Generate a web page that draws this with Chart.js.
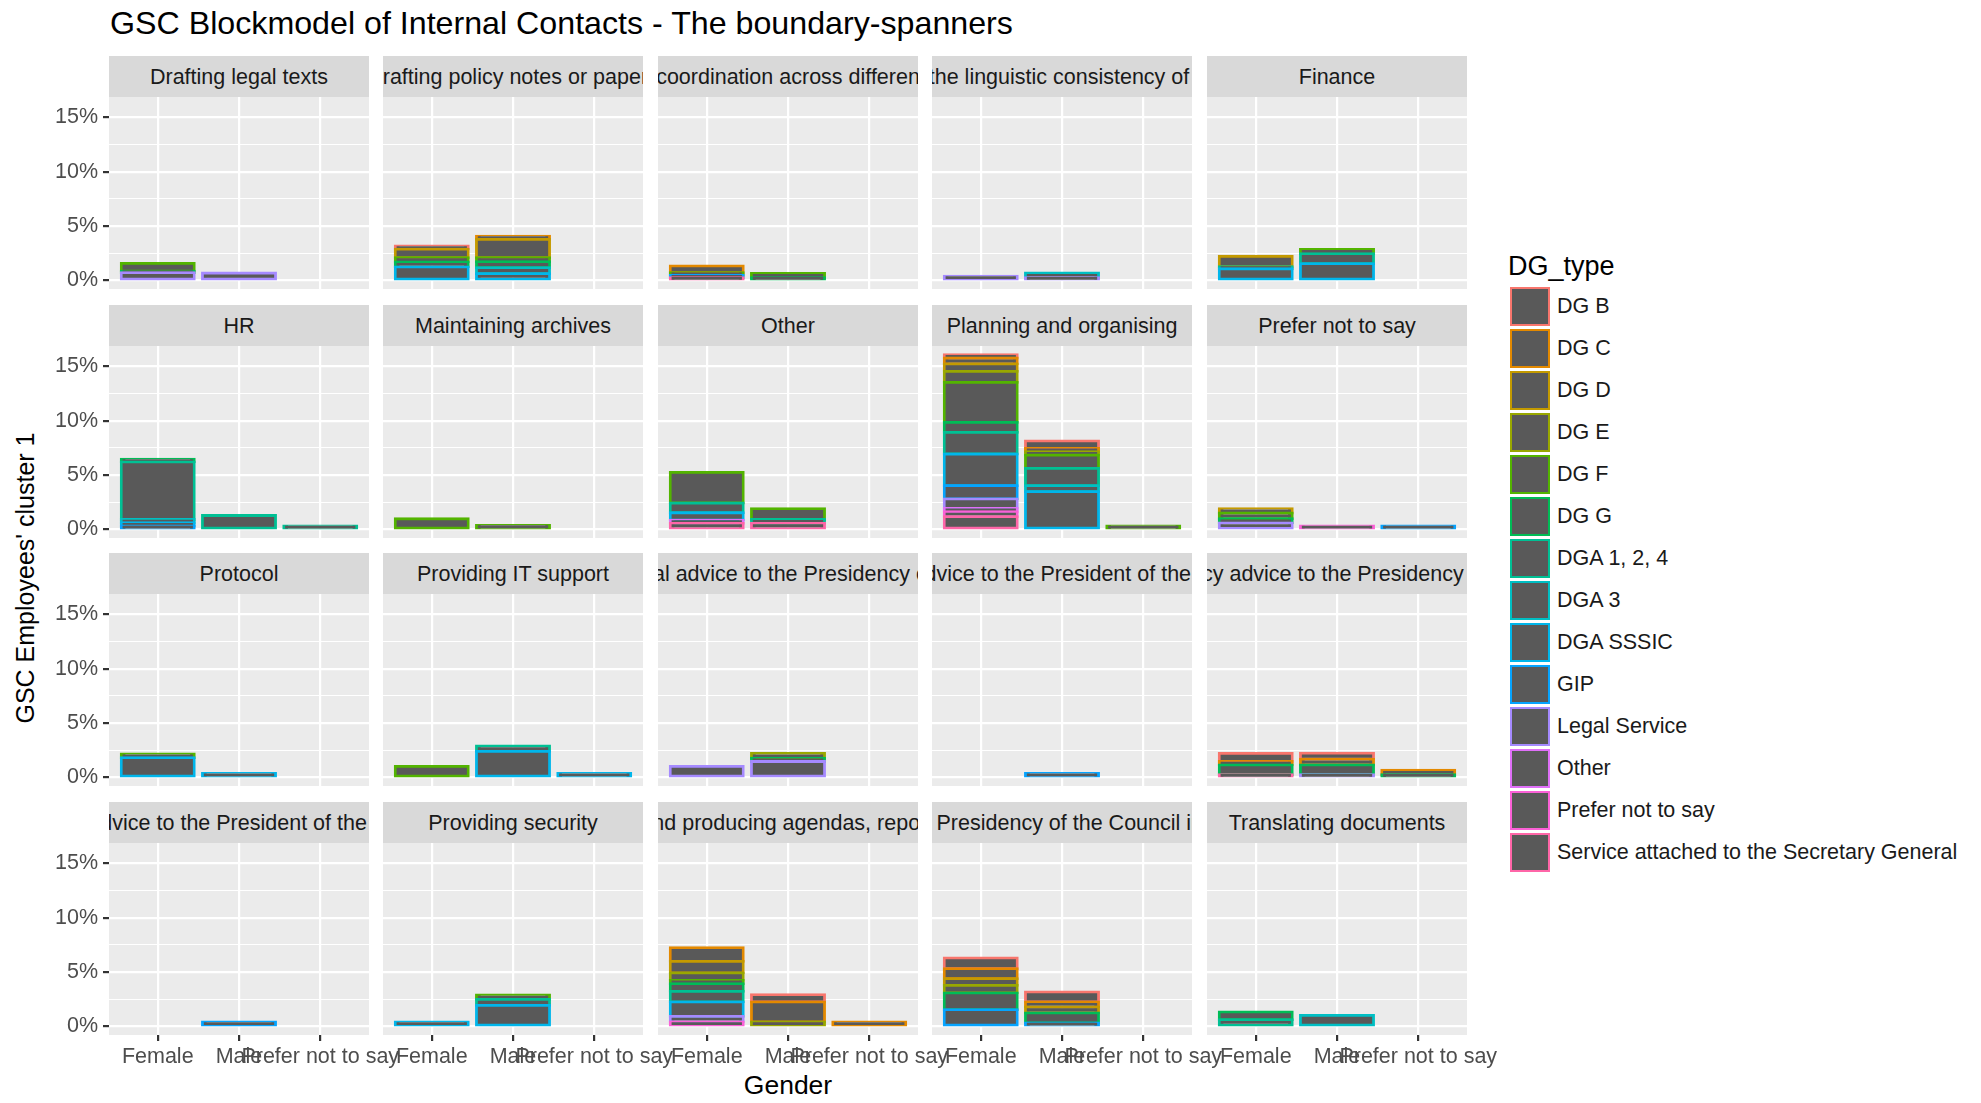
<!DOCTYPE html>
<html>
<head>
<meta charset="utf-8">
<title>GSC Blockmodel of Internal Contacts</title>
<script src="https://cdn.jsdelivr.net/npm/chart.js@4.4.1/dist/chart.umd.min.js"></script>
<style>
  body { margin: 0; background: #ffffff; }
  #page {
    position: relative; width: 1981px; height: 1103px; overflow: hidden;
    font-family: "Liberation Sans", Arial, Helvetica, sans-serif;
  }
  #title { position: absolute; left: 110px; top: 7px; font-size: 32.2px; line-height: 32px; color: #000; white-space: nowrap; }
  .strip { position: absolute; height: 41px; background: #D9D9D9; overflow: hidden; }
  .strip span {
    position: absolute; left: 50%; top: 50%; transform: translate(-50%, -50%);
    white-space: nowrap; font-size: 21.5px; color: #1A1A1A;
  }
  canvas { position: absolute; }
  #xTitle { position: absolute; left: 688px; width: 200px; top: 1072px; text-align: center; font-size: 26.5px; line-height: 27px; color: #000; }
  #yTitle {
    position: absolute; left: 25px; top: 578px; transform: translate(-50%, -50%) rotate(-90deg);
    font-size: 25px; line-height: 25px; white-space: nowrap; color: #000;
  }
  #legend { position: absolute; left: 1508px; top: 253px; }
  #legend .legendTitle { position: absolute; left: 0; top: 0; font-size: 27px; line-height: 27px; white-space: nowrap; color: #000; }
  #legend .key { position: absolute; left: 2px; width: 40px; height: 39px; box-sizing: border-box; border: 2.5px solid; background: #595959; }
  #legend .label { position: absolute; left: 49px; height: 39px; line-height: 39px; font-size: 21.5px; white-space: nowrap; color: #1A1A1A; }
</style>
</head>
<body>
<div id="page">
  <div id="title">GSC Blockmodel of Internal Contacts - The boundary-spanners</div>
  <div id="xTitle">Gender</div>
  <div id="yTitle">GSC Employees' cluster 1</div>
  <div id="legend"></div>
</div>
<script>
// Categories on the x axis of every panel.
const genders = ['Female', 'Male', 'Prefer not to say'];

// Fill-outline groups, in legend order (first level sits on top of each stack).
const dgTypes = [
    'DG B', 'DG C', 'DG D', 'DG E', 'DG F', 'DG G', 'DGA 1, 2, 4', 'DGA 3',
    'DGA SSSIC', 'GIP', 'Legal Service', 'Other', 'Prefer not to say',
    'Service attached to the Secretary General',
];
const dgColours = [
    '#F8766D', '#E38900', '#C49A00', '#99A800', '#53B400', '#00BC56', '#00C094',
    '#00BFC4', '#00B6EB', '#06A4FF', '#A58AFF', '#DF70F8', '#FB61D7', '#FF66A8',
];

// Y breaks (percent); labelled majors plus the minor lines between them.
const yMajorBreaks = [0, 5, 10, 15];

// Facet titles, wrapped 5 per row.
const facetNames = [
    'Drafting legal texts',
    'Drafting policy notes or papers',
    'Ensuring coordination across different services',
    'Ensuring the linguistic consistency of legal acts',
    'Finance',
    'HR',
    'Maintaining archives',
    'Other',
    'Planning and organising',
    'Prefer not to say',
    'Protocol',
    'Providing IT support',
    'Providing legal advice to the Presidency of the Council',
    'Providing policy advice to the President of the European Council',
    'Providing policy advice to the Presidency of the Council',
    'Providing press advice to the President of the European Council',
    'Providing security',
    'Providing support in drafting and producing agendas, reports and minutes of the meeting',
    'Providing support to the Presidency of the Council in the legislative process',
    'Translating documents',
];

// Share of cluster 1 (%) per task: [DG type, Female, Male, Prefer not to say]
const draftingLegalTexts = [
    ['DG F', 0.70, 0, 0],
    ['DG G', 0.15, 0, 0],
    ['Legal Service', 0.70, 0.67, 0],
];
const draftingPolicyNotes = [
    ['DG B', 0.30, 0, 0],
    ['DG C', 0, 0.30, 0],
    ['DG D', 0.77, 1.69, 0],
    ['DG F', 0.40, 0.37, 0],
    ['DG G', 0.46, 0.55, 0],
    ['DGA 3', 0, 0.55, 0],
    ['DGA SSSIC', 1.23, 0.61, 0],
];
const ensuringCoordination = [
    ['DG C', 0.62, 0, 0],
    ['DG F', 0.24, 0.40, 0],
    ['DG G', 0, 0.24, 0],
    ['GIP', 0.21, 0, 0],
    ['Service attached to the Secretary General', 0.25, 0, 0],
];
const ensuringLinguistic = [
    ['DGA 3', 0, 0.43, 0],
    ['Legal Service', 0.37, 0.24, 0],
];
const finance = [
    ['DG D', 0.95, 0, 0],
    ['DG F', 0, 0.40, 0],
    ['DGA 1, 2, 4', 0.20, 0.92, 0],
    ['DGA SSSIC', 1.06, 1.53, 0],
];
const hr = [
    ['DG G', 0.25, 0, 0],
    ['DGA 1, 2, 4', 5.30, 1.27, 0.30],
    ['DGA 3', 0.30, 0, 0],
    ['DGA SSSIC', 0.30, 0, 0],
    ['GIP', 0.30, 0, 0],
];
const maintainingArchives = [
    ['DG F', 0.97, 0.36, 0],
];
const otherTasks = [
    ['DG F', 2.82, 1.00, 0],
    ['DGA 1, 2, 4', 0.90, 0.35, 0],
    ['DGA SSSIC', 0.67, 0, 0],
    ['Other', 0.30, 0, 0],
    ['Service attached to the Secretary General', 0.55, 0.55, 0],
];
const planning = [
    ['DG B', 0.30, 0.68, 0],
    ['DG C', 0.55, 0.30, 0],
    ['DG D', 0.68, 0, 0],
    ['DG E', 1.01, 0.31, 0],
    ['DG F', 3.68, 1.23, 0.30],
    ['DG G', 0.92, 0, 0],
    ['DGA 1, 2, 4', 2.00, 1.59, 0],
    ['DGA 3', 0, 0.55, 0],
    ['DGA SSSIC', 2.91, 3.47, 0],
    ['GIP', 1.23, 0, 0],
    ['Legal Service', 0.86, 0, 0],
    ['Other', 0.30, 0, 0],
    ['Prefer not to say', 0.46, 0, 0],
    ['Service attached to the Secretary General', 1.17, 0, 0],
];
const preferNotToSay = [
    ['DG D', 0.40, 0, 0],
    ['DG F', 0.52, 0, 0],
    ['DG G', 0.40, 0, 0],
    ['GIP', 0, 0, 0.30],
    ['Legal Service', 0.58, 0, 0],
    ['Prefer not to say', 0, 0.30, 0],
];
const protocol = [
    ['DG F', 0.35, 0, 0],
    ['DGA SSSIC', 1.80, 0.35, 0],
];
const itSupport = [
    ['DG F', 1.00, 0, 0],
    ['DGA 1, 2, 4', 0, 0.50, 0],
    ['DGA SSSIC', 0, 2.38, 0.35],
];
const legalAdvice = [
    ['DG E', 0, 0.45, 0],
    ['DG G', 0, 0.30, 0],
    ['Legal Service', 1.00, 1.45, 0],
];
const adviceEuropeanCouncil = [
    ['GIP', 0, 0.35, 0],
];
const policyAdvicePresidency = [
    ['DG B', 0.75, 0.55, 0],
    ['DG C', 0.30, 0.52, 0.40],
    ['DG G', 0.90, 0.90, 0.25],
    ['Legal Service', 0, 0.25, 0],
    ['Service attached to the Secretary General', 0.25, 0, 0],
];
const pressAdvice = [
    ['GIP', 0, 0.40, 0],
];
const security = [
    ['DG F', 0, 0.40, 0],
    ['DGA 1, 2, 4', 0, 0.55, 0],
    ['DGA SSSIC', 0.40, 1.93, 0],
];
const agendasReports = [
    ['DG B', 0, 0.67, 0],
    ['DG C', 1.26, 1.84, 0.40],
    ['DG D', 1.07, 0, 0],
    ['DG E', 0.68, 0.40, 0],
    ['DG F', 0.30, 0, 0],
    ['DG G', 0.71, 0, 0],
    ['DGA 1, 2, 4', 0.98, 0, 0],
    ['DGA SSSIC', 1.32, 0, 0],
    ['Legal Service', 0.52, 0, 0],
    ['Prefer not to say', 0.40, 0, 0],
];
const supportPresidency = [
    ['DG B', 0.98, 0.92, 0],
    ['DG C', 0.92, 0.46, 0],
    ['DG D', 0.62, 0.55, 0],
    ['DG E', 0.70, 0, 0],
    ['DG G', 1.54, 0.92, 0],
    ['GIP', 1.53, 0.31, 0],
];
const translating = [
    ['DG G', 0.70, 0, 0],
    ['DGA 1, 2, 4', 0.62, 0, 0],
    ['DGA 3', 0, 1.00, 0],
];

const facetData = [
    draftingLegalTexts, draftingPolicyNotes, ensuringCoordination, ensuringLinguistic, finance,
    hr, maintainingArchives, otherTasks, planning, preferNotToSay,
    protocol, itSupport, legalAdvice, adviceEuropeanCouncil, policyAdvicePresidency,
    pressAdvice, security, agendasReports, supportPresidency, translating,
];

// Panel grid geometry (px).
const PANEL_W = 260, PANEL_H = 192;
const panelLeft = col => Math.round(109 + col * 274.4);
const panelTop = row => Math.round(97 + row * 248.5);
const STRIP_H = 41;
const Y_AXIS_W = 75, X_AXIS_H = 42;
const PAD_T = 20, PAD_B = 20, PAD_R = 50;

// Shared y range: stacked totals, expanded by 5% either side.
const stackTotals = facetData.flatMap(rows =>
    genders.map((g, k) => rows.reduce((sum, r) => sum + r[k + 1], 0)));
const maxTotal = Math.max(...stackTotals);
const yMin = -0.05 * maxTotal, yMax = 1.05 * maxTotal;

const yBreaks = [];
yMajorBreaks.forEach((v, i) => {
    yBreaks.push(v);
    if (i < yMajorBreaks.length - 1) yBreaks.push((v + yMajorBreaks[i + 1]) / 2);
});
const isMajor = v => yMajorBreaks.includes(v);

Chart.defaults.font.family = '"Liberation Sans", Arial, Helvetica, sans-serif';
const tickFont = { size: 21.5 };

// Grey panel background behind the grid.
const panelBackground = {
    id: 'panelBackground',
    beforeDraw(chart) {
        const { ctx, chartArea: a } = chart;
        ctx.save();
        ctx.fillStyle = '#EBEBEB';
        ctx.fillRect(a.left, a.top, a.right - a.left, a.bottom - a.top);
        ctx.restore();
    },
};

const page = document.getElementById('page');

facetNames.forEach((name, i) => {
    const row = Math.floor(i / 5), col = i % 5;
    const left = panelLeft(col), top = panelTop(row);
    const leftCol = col === 0, bottomRow = row === 3;

    // Facet strip.
    const strip = document.createElement('div');
    strip.className = 'strip';
    strip.style.left = left + 'px';
    strip.style.top = (top - STRIP_H) + 'px';
    strip.style.width = PANEL_W + 'px';
    const label = document.createElement('span');
    label.textContent = name;
    strip.appendChild(label);
    page.appendChild(strip);

    // Panel canvas, with room for the axes where they are drawn.
    const axisW = leftCol ? Y_AXIS_W : 0;
    const canvas = document.createElement('canvas');
    canvas.width = axisW + PANEL_W + PAD_R;
    canvas.height = PAD_T + PANEL_H + (bottomRow ? X_AXIS_H : PAD_B);
    canvas.style.left = (left - axisW) + 'px';
    canvas.style.top = (top - PAD_T) + 'px';
    page.appendChild(canvas);

    // Last level first so that DG B ends up on top of the stack.
    const rows = facetData[i];
    const datasets = [];
    for (let d = dgTypes.length - 1; d >= 0; d--) {
        const r = rows.find(e => e[0] === dgTypes[d]);
        if (!r) continue;
        datasets.push({
            label: dgTypes[d],
            data: genders.map((g, k) => ({ x: k + 1, y: r[k + 1] || null })),
            backgroundColor: '#595959',
            borderColor: dgColours[d],
        });
    }

    new Chart(canvas, {
        type: 'bar',
        data: { datasets },
        options: {
            responsive: false,
            animation: false,
            layout: { padding: { top: PAD_T, right: PAD_R, bottom: bottomRow ? 0 : PAD_B, left: 0 } },
            datasets: {
                bar: {
                    barPercentage: 0.9,
                    categoryPercentage: 1,
                    borderWidth: 2.8,
                    borderSkipped: false,
                    inflateAmount: 1.4,
                },
            },
            plugins: { legend: { display: false }, tooltip: { enabled: false } },
            scales: {
                x: {
                    type: 'linear',
                    min: 0.4,
                    max: 3.6,
                    offset: false,
                    stacked: true,
                    afterBuildTicks: s => { s.ticks = genders.map((g, k) => ({ value: k + 1 })); },
                    afterFit: s => { s.height = bottomRow ? X_AXIS_H : 0; },
                    border: { display: false },
                    grid: {
                        offset: false,
                        color: '#FFFFFF',
                        lineWidth: 2.2,
                        drawTicks: bottomRow,
                        tickLength: 6,
                        tickColor: '#333333',
                        tickWidth: 2.2,
                    },
                    ticks: {
                        display: bottomRow,
                        autoSkip: false,
                        maxRotation: 0,
                        minRotation: 0,
                        padding: 3,
                        color: '#4D4D4D',
                        font: tickFont,
                        callback: v => genders[v - 1],
                    },
                },
                y: {
                    min: yMin,
                    max: yMax,
                    stacked: true,
                    afterBuildTicks: s => { s.ticks = yBreaks.map(v => ({ value: v })); },
                    afterFit: s => { s.width = axisW; },
                    border: { display: false },
                    grid: {
                        color: '#FFFFFF',
                        lineWidth: c => isMajor(c.tick.value) ? 2.2 : 1.1,
                        drawTicks: leftCol,
                        tickLength: 6,
                        tickColor: c => isMajor(c.tick.value) ? '#333333' : 'rgba(0,0,0,0)',
                        tickWidth: 2.2,
                    },
                    ticks: {
                        display: leftCol,
                        padding: 5,
                        color: '#4D4D4D',
                        font: tickFont,
                        callback: v => isMajor(v) ? v + '%' : '',
                    },
                },
            },
        },
        plugins: [panelBackground],
    });
});

// Legend.
const legend = document.getElementById('legend');
const legendTitle = document.createElement('div');
legendTitle.className = 'legendTitle';
legendTitle.textContent = 'DG_type';
legend.appendChild(legendTitle);
dgTypes.forEach((t, i) => {
    const y = 34 + i * 42;
    const key = document.createElement('div');
    key.className = 'key';
    key.style.top = y + 'px';
    key.style.borderColor = dgColours[i];
    legend.appendChild(key);
    const text = document.createElement('div');
    text.className = 'label';
    text.style.top = y + 'px';
    text.textContent = t;
    legend.appendChild(text);
});
</script>
</body>
</html>
